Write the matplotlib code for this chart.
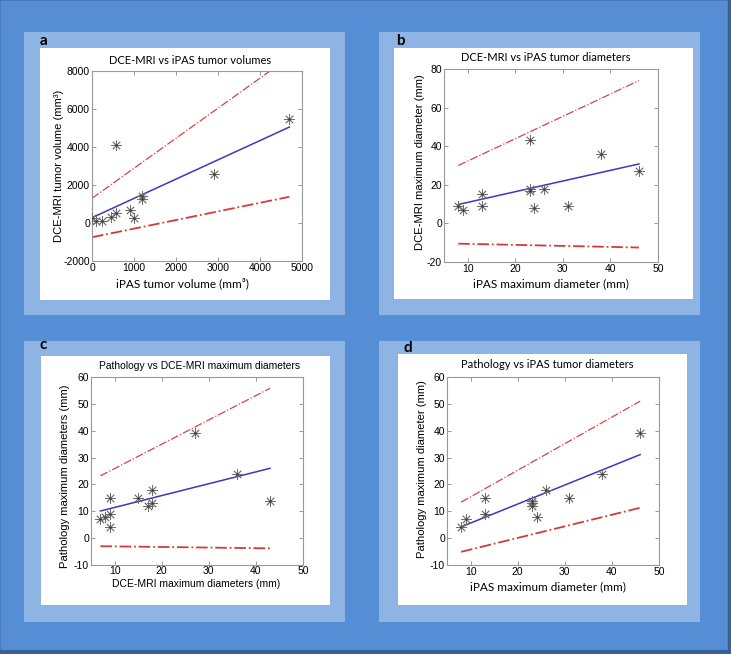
import matplotlib
matplotlib.use("Agg")
import matplotlib.pyplot as plt
from matplotlib.patches import Rectangle
from matplotlib.lines import Line2D
from matplotlib.markers import MarkerStyle

# panel a: DCE-MRI vs iPAS tumor volumes
a_x = [10, 95, 245, 445, 565, 580, 910, 1010, 1190, 1200, 2910, 4690]
a_y = [245, 105, 120, 330, 510, 4100, 700, 280, 1420, 1250, 2580, 5490]
a_line_x = [0, 4700]
a_fit = [280, 5050]
a_upper = [1300, 8730]
a_lower = [-750, 1380]

# panel b: DCE-MRI vs iPAS diameters
b_x = [8, 9, 13, 13, 23, 23, 23, 26, 24, 31, 38, 46]
b_y = [9, 7, 15, 9, 43, 18, 17, 18, 8, 9, 36, 27]
b_line_x = [8, 46]
b_fit = [9.8, 30.8]
b_upper = [30, 74]
b_lower = [-10.5, -12.5]

# panel c: pathology vs DCE-MRI diameters
c_x = [7, 8, 9, 9, 9, 15, 17, 18, 18, 27, 36, 43]
c_y = [7, 8, 15, 9, 4, 15, 12, 13, 18, 39, 24, 14]
c_line_x = [7, 43]
c_fit = [10.1, 26.0]
c_upper = [23.2, 55.8]
c_lower = [-3.0, -3.8]

# panel d: pathology vs iPAS diameters
d_x = [8, 9, 13, 13, 23, 23, 23, 24, 26, 31, 38, 46]
d_y = [4, 7, 15, 9, 14, 13, 12, 8, 18, 15, 24, 39]
d_line_x = [8, 46]
d_fit = [4.2, 31.1]
d_upper = [13.4, 51]
d_lower = [-5.1, 11.3]

plt.rcParams['axes.unicode_minus'] = False

W, H = 731, 654
OUTER = '#568ed5'
LIGHT = '#8db4e3'
ARIAL = ['Liberation Sans', 'DejaVu Sans']
CALIBRI = ['Lato', 'DejaVu Sans']

fig = plt.figure(figsize=(W / 100, H / 100), dpi=100)
fig.patch.set_facecolor(OUTER)


def box(x0, y0, x1, y1, color):
    fig.add_artist(Rectangle((x0 / W, 1 - y1 / H), (x1 - x0) / W, (y1 - y0) / H,
                             transform=fig.transFigure, facecolor=color,
                             edgecolor='none', zorder=0))


def axes_px(l, t, r, b):
    return fig.add_axes([l / W, 1 - b / H, (r - l) / W, (b - t) / H])


# outer frame: faint on top/left, darker on right/bottom
fig.add_artist(Rectangle((0, 0), 1, 1, transform=fig.transFigure, facecolor='none',
                         edgecolor='#4a78b8', linewidth=1.5, zorder=0))
fig.add_artist(Line2D([1 - 2 / W, 1 - 2 / W], [2 / H, 1], transform=fig.transFigure,
                      color='#3a5f92', linewidth=2.5))
fig.add_artist(Line2D([0, 1 - 2 / W], [2 / H, 2 / H], transform=fig.transFigure,
                      color='#3a5f92', linewidth=3))

box(24, 32, 345, 315, LIGHT)
box(40, 48, 330, 300, 'white')
box(379, 32, 700, 315, LIGHT)
box(394, 48, 693, 299, 'white')
box(24, 341, 345, 622, LIGHT)
box(41, 356, 330, 605, 'white')
box(379, 341, 700, 622, LIGHT)
box(398, 354, 687, 605, 'white')

for letter, px, py in [('a', 43, 41), ('b', 400, 41), ('c', 43, 345), ('d', 408, 348)]:
    fig.text(px / W, 1 - py / H, letter, family=CALIBRI, fontsize=11,
             fontweight='bold', ha='center', va='center')

star = MarkerStyle((8, 2, 0))


def panel(ax, x, y, lx, fit, up, lo, xlim, ylim, xticks, yticks):
    ax.plot(x, y, linestyle='none', marker=star, markersize=7.5,
            markeredgecolor='#6e6e6e', markeredgewidth=0.6, zorder=3)
    ax.plot(x, y, linestyle='none', marker='o', markersize=1.5,
            markerfacecolor='#333333', markeredgecolor='none', zorder=4)
    ax.plot(lx, fit, color='#3838c6', linewidth=1.1)
    ax.plot(lx, up, color='#d64444', linewidth=0.9, linestyle='-.')
    ax.plot(lx, lo, color='#d43a3a', linewidth=1.3, linestyle='-.')
    ax.set_xlim(xlim)
    ax.set_ylim(ylim)
    ax.set_xticks(xticks)
    ax.set_yticks(yticks)
    ax.tick_params(direction='in', length=3, width=0.6, color='#888888',
                   top=True, right=True, labelsize=7.5, pad=1.5)
    for lab in ax.get_xticklabels() + ax.get_yticklabels():
        lab.set_family(ARIAL)
    for s in ax.spines.values():
        s.set_color('#999999')
        s.set_linewidth(0.8)


def labels(ax, title, tfam, tpos, xl, xfam, xpos, yl, ypos, tsize=8, xsize=8.5):
    ax.text(tpos[0], tpos[1], title, transform=ax.transAxes, ha='center',
            va='center', family=tfam, fontsize=tsize)
    ax.set_xlabel(xl, family=xfam, fontsize=xsize, va='center', ha='center')
    ax.xaxis.set_label_coords(*xpos)
    ax.set_ylabel(yl, family=ARIAL, fontsize=8.1, va='center', ha='center')
    ax.yaxis.set_label_coords(*ypos)


ax = axes_px(92, 71, 302, 261)
panel(ax, a_x, a_y, a_line_x, a_fit, a_upper, a_lower, (0, 5000), (-2000, 8000),
      range(0, 5001, 1000), range(-2000, 8001, 2000))
labels(ax, 'DCE-MRI vs iPAS tumor volumes', CALIBRI, (0.467, 1.053),
       'iPAS tumor volume (mm³)', CALIBRI, (0.43, -0.116),
       'DCE-MRI tumor volume (mm³)', (-0.157, 0.5))

ax = axes_px(444, 69, 658, 262)
panel(ax, b_x, b_y, b_line_x, b_fit, b_upper, b_lower, (5, 50), (-20, 80),
      range(10, 51, 10), range(-20, 81, 20))
labels(ax, 'DCE-MRI vs iPAS tumor diameters', CALIBRI, (0.475, 1.057),
       'iPAS maximum diameter (mm)', CALIBRI, (0.5, -0.114),
       'DCE-MRI maximum diameter (mm)', (-0.112, 0.52))

ax = axes_px(91, 377, 303, 565)
panel(ax, c_x, c_y, c_line_x, c_fit, c_upper, c_lower, (5, 50), (-10, 60),
      range(10, 51, 10), range(-10, 61, 10))
ax.tick_params(axis='x', pad=0.5)
labels(ax, 'Pathology vs DCE-MRI maximum diameters', ARIAL, (0.514, 1.059),
       'DCE-MRI maximum diameters (mm)', ARIAL, (0.495, -0.1),
       'Pathology maximum diameters (mm)', (-0.123, 0.47), tsize=7.4, xsize=7.5)

ax = axes_px(447, 377, 659, 565)
panel(ax, d_x, d_y, d_line_x, d_fit, d_upper, d_lower, (5, 50), (-10, 60),
      range(10, 51, 10), range(-10, 61, 10))
labels(ax, 'Pathology vs iPAS tumor diameters', CALIBRI, (0.474, 1.064),
       'iPAS maximum diameter (mm)', CALIBRI, (0.474, -0.117),
       'Pathology maximum diameter (mm)', (-0.118, 0.51))

fig.savefig('out.png', dpi=100, facecolor=fig.get_facecolor())
